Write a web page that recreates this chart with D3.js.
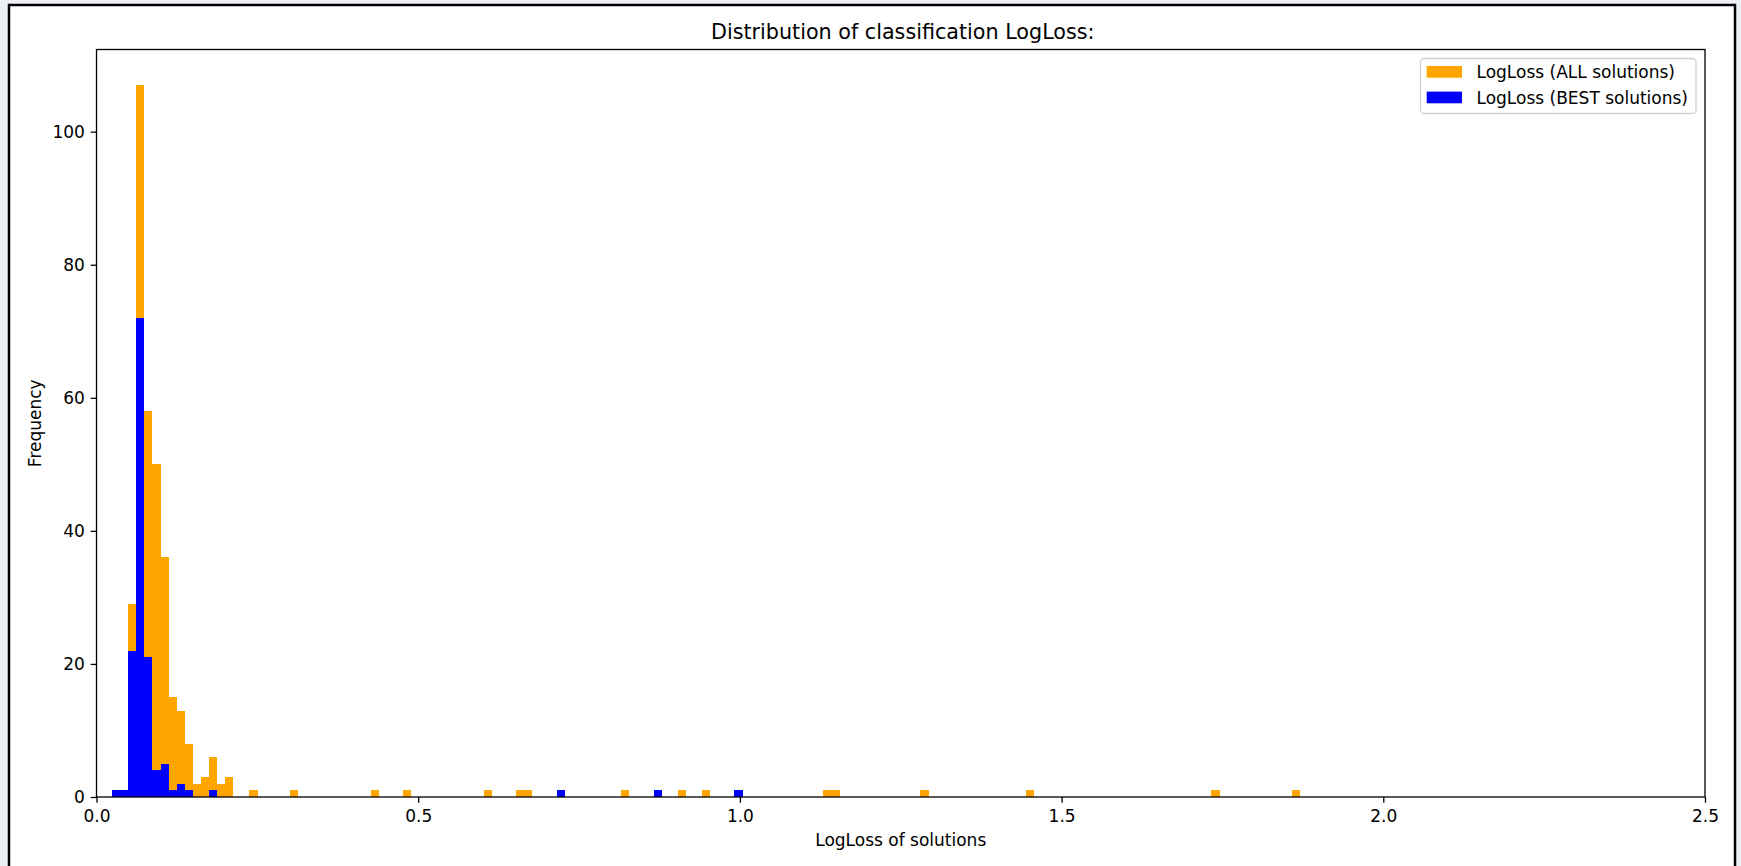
<!DOCTYPE html>
<html>
<head>
<meta charset="utf-8">
<script src="https://cdn.jsdelivr.net/npm/d3@7"></script>
<style>
  html, body { margin: 0; padding: 0; background: #eceff3; }
  svg { display: block; }
  text { font-family: "DejaVu Sans", sans-serif; fill: #000; }
</style>
</head>
<body>
<svg id="chart" width="1741" height="866"></svg>
<script>
// Histogram bins shared by both series (LogLoss values)
const binStart = 0.0241;
const binWidth = 0.012565;

// All solutions: bin index -> frequency
const allBins   = [0, 1, 2, 3, 4, 5, 6, 7, 8, 9, 10, 11, 12, 13, 14, 17, 22, 32, 36, 46, 50, 51, 55, 63, 67, 70, 73, 77, 88, 89, 100, 113, 136, 146];
const allCounts = [1, 1, 29, 107, 58, 50, 36, 15, 13, 8, 2, 3, 6, 2, 3, 1, 1, 1, 1, 1, 1, 1, 1, 1, 1, 1, 1, 1, 1, 1, 1, 1, 1, 1];

// Best solutions: bin index -> frequency
const bestBins   = [0, 1, 2, 3, 4, 5, 6, 7, 8, 9, 12, 55, 67, 77];
const bestCounts = [1, 1, 22, 72, 21, 4, 5, 1, 2, 1, 1, 1, 1, 1];

// Axis ticks
const xTicks = [0.0, 0.5, 1.0, 1.5, 2.0, 2.5];
const yTicks = [0, 20, 40, 60, 80, 100];

const seriesNames = ["LogLoss (ALL solutions)", "LogLoss (BEST solutions)"];
const seriesColors = ["orange", "blue"];

const W = 1741, H = 866;
const plot = { left: 96.5, right: 1705, top: 49.5, bottom: 797 };

const svg = d3.select("#chart");

// page frame
svg.append("rect").attr("x", 0).attr("y", 0).attr("width", W).attr("height", H).attr("fill", "#eceff3");
svg.append("rect").attr("x", 9).attr("y", 5).attr("width", 1726).attr("height", 900)
  .attr("fill", "#fff").attr("stroke", "#000").attr("stroke-width", 2.5);

const yMax = d3.max(allCounts) * 1.05;
const x = d3.scaleLinear().domain([0, 2.5]).range([plot.left, plot.right]);
const y = d3.scaleLinear().domain([0, yMax]).range([plot.bottom, plot.top]);

function toBars(bins, counts) {
  return bins.map((b, i) => ({ x0: binStart + b * binWidth, x1: binStart + (b + 1) * binWidth, n: counts[i] }));
}

const series = [toBars(allBins, allCounts), toBars(bestBins, bestCounts)];

const g = svg.append("g");
series.forEach((bars, si) => {
  g.append("g").selectAll("rect").data(bars).join("rect")
    .attr("x", d => x(d.x0))
    .attr("width", d => x(d.x1) - x(d.x0))
    .attr("y", d => y(d.n))
    .attr("height", d => y(0) - y(d.n))
    .attr("fill", seriesColors[si])
    .attr("shape-rendering", "crispEdges");
});

// axes
const fs = 17;
const xAxis = svg.append("g").attr("transform", `translate(0,${plot.bottom})`)
  .call(d3.axisBottom(x).tickValues(xTicks).tickFormat(d3.format(".1f")).tickSize(5.8).tickPadding(7.3));
const yAxis = svg.append("g").attr("transform", `translate(${plot.left},0)`)
  .call(d3.axisLeft(y).tickValues(yTicks).tickFormat(d3.format("d")).tickSize(5.8).tickPadding(5.8));
[xAxis, yAxis].forEach(a => {
  a.select(".domain").remove();
  a.selectAll(".tick line").attr("stroke", "#000").attr("stroke-width", 1.3);
  a.selectAll(".tick text").attr("font-size", fs).attr("font-family", "DejaVu Sans").attr("fill", "#000");
});

// spines
svg.append("rect")
  .attr("x", plot.left).attr("y", plot.top)
  .attr("width", plot.right - plot.left).attr("height", plot.bottom - plot.top)
  .attr("fill", "none").attr("stroke", "#000").attr("stroke-width", 1.3);

// title and axis labels
const cx = (plot.left + plot.right) / 2;
svg.append("text").attr("x", cx + 2).attr("y", 39).attr("text-anchor", "middle")
  .attr("font-size", 20.7).text("Distribution of classification LogLoss:");
svg.append("text").attr("x", cx).attr("y", 846).attr("text-anchor", "middle")
  .attr("font-size", fs).text("LogLoss of solutions");
svg.append("text").attr("transform", `translate(41,${(plot.top + plot.bottom) / 2}) rotate(-90)`)
  .attr("text-anchor", "middle").attr("font-size", fs).text("Frequency");

// legend
const lg = svg.append("g");
lg.append("rect").attr("x", 1420.5).attr("y", 58.5).attr("width", 275.5).attr("height", 55)
  .attr("rx", 3.5).attr("fill", "#fff").attr("fill-opacity", 0.8)
  .attr("stroke", "#d0d0d0").attr("stroke-width", 1.3);
seriesNames.forEach((name, i) => {
  const yy = 66 + i * 25.6;
  lg.append("rect").attr("x", 1426.7).attr("y", yy).attr("width", 35.3).attr("height", 11.7)
    .attr("fill", seriesColors[i]);
  lg.append("text").attr("x", 1476.5).attr("y", yy + 12).attr("font-size", fs).text(name);
});
</script>
</body>
</html>
